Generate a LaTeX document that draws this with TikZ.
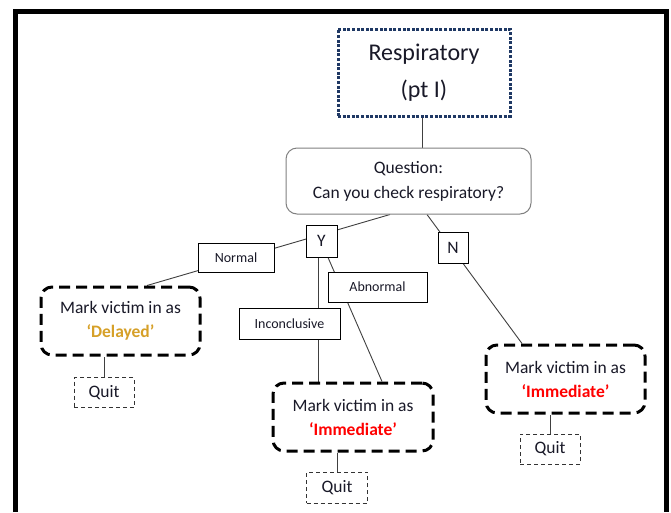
\documentclass[tikz,border=0pt]{standalone}
\usepackage{fontspec}
\setmainfont{Carlito}
\usetikzlibrary{backgrounds}
\definecolor{navy}{RGB}{31,56,100}
\definecolor{gold}{RGB}{214,160,40}
\definecolor{txt}{RGB}{25,25,40}
\definecolor{redtxt}{RGB}{255,0,0}
\definecolor{qgray}{RGB}{128,128,128}
\tikzset{
  every node/.style={inner sep=0pt, text=txt, align=center},
  titlebox/.style={draw=navy, line width=3pt, dash pattern=on 3pt off 1.6pt,
    minimum width=172pt, minimum height=87pt, font=\fontsize{24}{37}\selectfont},
  qbox/.style={draw=qgray, line width=1pt, rounded corners=11pt, fill=white,
    minimum width=245pt, minimum height=66pt, font=\fontsize{17.5}{25}\selectfont},
  lbl/.style={draw=black, line width=0.9pt, fill=white, font=\fontsize{14}{16}\selectfont},
  yn/.style={draw=black, line width=0.9pt, fill=white, font=\fontsize{17.5}{20}\selectfont},
  markbox/.style={draw=black, line width=3pt, dash pattern=on 11pt off 6pt, rounded corners=11pt,
    minimum width=159pt, minimum height=68pt, font=\fontsize{17.5}{24}\selectfont},
  quitbox/.style={draw=black!80, line width=0.9pt, dash pattern=on 4pt off 3pt,
    minimum width=60pt, minimum height=30pt, font=\fontsize{17.5}{20}\selectfont},
  conn/.style={draw=black!75, line width=0.9pt}
}
\begin{document}
\begin{tikzpicture}[x=1pt, y=-1pt]
\useasboundingbox (0,0) rectangle (671,512);
\draw[line width=5pt, line join=miter] (15,512) -- (15,11.5) -- (666,11.5) -- (666,512);

\node[titlebox] (title) at (424,72.5) {Respiratory\\(pt I)};
\node[qbox] (q) at (408.5,181) {Question:\\Can you check respiratory?};
\node[yn, minimum width=31pt, minimum height=32pt] (Y) at (321.5,241) {Y};
\node[yn, minimum width=30pt, minimum height=31pt] (N) at (453,247.5) {N};
\node[lbl, minimum width=76pt, minimum height=29pt] (normal) at (236,257.5) {Normal};
\node[lbl, minimum width=99pt, minimum height=30pt] (abnormal) at (377.5,287) {Abnormal};
\node[lbl, minimum width=101pt, minimum height=31pt] (incon) at (289.5,323.5) {Inconclusive};
\node[markbox] (delayed) at (120.5,321) {Mark victim in as\\\textcolor{gold}{\textbf{‘Delayed’}}};
\node[markbox, minimum width=160pt] (imm1) at (353,417) {Mark victim in as\\\textcolor{redtxt}{\textbf{‘Immediate’}}};
\node[markbox] (imm2) at (565.5,379) {Mark victim in as\\\textcolor{redtxt}{\textbf{‘Immediate’}}};
\node[quitbox] (quit1) at (104,392.5) {\raisebox{-2pt}{Quit}};
\node[quitbox, minimum width=61pt, minimum height=31pt] (quit2) at (337,487.5) {\raisebox{-2pt}{Quit}};
\node[quitbox] (quit3) at (550,449) {\raisebox{-2pt}{Quit}};

\begin{pgfonlayer}{background}
\fill[white] (0,0) rectangle (671,512);
\draw[conn] ([xshift=-2pt]title.south) -- ([xshift=-2pt]title.south |- q.north);
\draw[conn] ([xshift=-18.5pt]q.south) -- ([xshift=26.5pt]delayed.north);
\draw[conn] ([xshift=-3.5pt]Y.south) -- ([xshift=-3.5pt]Y.south |- imm1.north);
\draw[conn] ([xshift=6.5pt]Y.south) -- ([xshift=29pt]imm1.north);
\draw[conn] ([xshift=18.5pt]q.south) -- ([xshift=-43.5pt]imm2.north);
\draw[conn] (quit1.north) -- (quit1.north |- delayed.south);
\draw[conn] (quit2.north) -- (quit2.north |- imm1.south);
\draw[conn] (quit3.north) -- (quit3.north |- imm2.south);
\end{pgfonlayer}
\end{tikzpicture}
\end{document}
